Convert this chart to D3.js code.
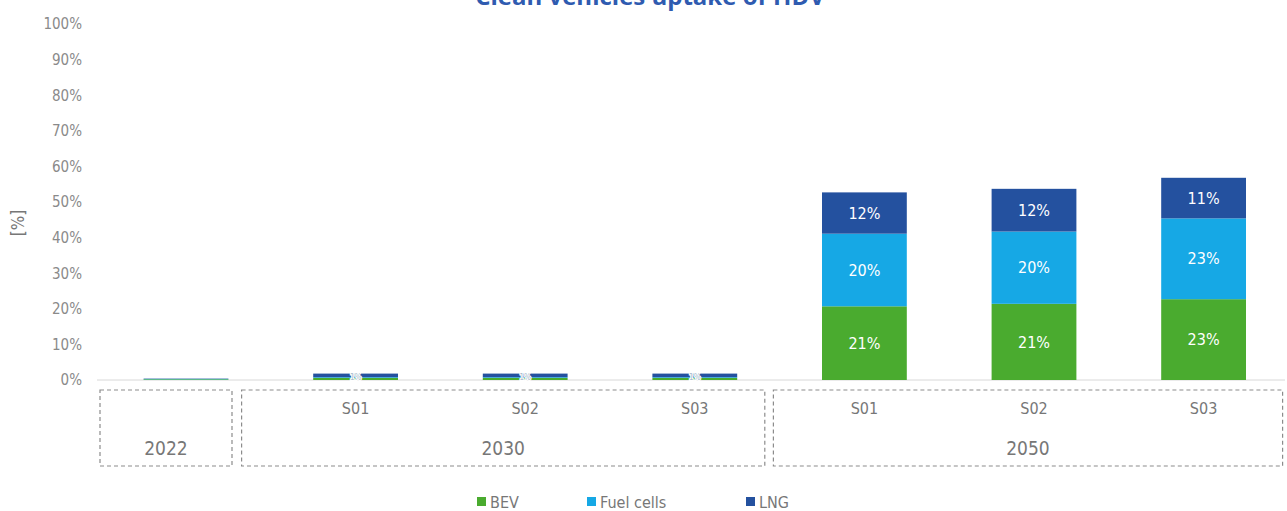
<!DOCTYPE html>
<html>
<head>
<meta charset="utf-8">
<script src="https://cdn.jsdelivr.net/npm/d3@7"></script>
<style>
  html, body { margin: 0; padding: 0; background: #fff; }
  svg { display: block; }
  text { font-family: "Liberation Sans Narrow", "DejaVu Sans Condensed", "Roboto", sans-serif; }
</style>
</head>
<body>
<svg id="chart" width="1287" height="511"></svg>
<script>
// Scenario columns: year group + scenario
const keys      = ["2022", "2030-S01", "2030-S02", "2030-S03", "2050-S01", "2050-S02", "2050-S03"];
const scenarios = ["",     "S01",      "S02",      "S03",      "S01",      "S02",      "S03"];
const years     = ["2022", "2030", "2050"];

// Share of clean HDV in the fleet, [%]
const bev       = [0.2, 0.6, 0.6, 0.6, 20.7, 21.4, 22.7];
const fuelCells = [0.1, 0.2, 0.2, 0.2, 20.4, 20.3, 22.7];
const lng       = [0.1, 1.0, 1.0, 1.0, 11.6, 12.0, 11.4];

const series = ["BEV", "Fuel cells", "LNG"];
const yTicks = [0, 10, 20, 30, 40, 50, 60, 70, 80, 90, 100];

const colors = { "BEV": "#4aab2f", "Fuel cells": "#16a8e5", "LNG": "#24519f" };

const rows = keys.map((k, i) => ({ key: k, "BEV": bev[i], "Fuel cells": fuelCells[i], "LNG": lng[i] }));

const svg = d3.select("#chart");

const x = d3.scaleBand().domain(keys).range([101.2, 1288.4]).paddingInner(0.5).paddingOuter(0.25);
const y = d3.scaleLinear().domain([0, 100]).range([380, 24]);

// Title (sits partly above the canvas edge)
svg.append("text")
  .attr("x", 650).attr("y", 5)
  .attr("text-anchor", "middle")
  .attr("fill", "#2f5bb0")
  .attr("font-size", 24).attr("font-weight", "bold")
  .style("font-family", "'Open Sans', sans-serif")
  .text("Clean vehicles uptake of HDV");

// Y axis labels
const yAxis = d3.axisLeft(y).tickValues(yTicks).tickFormat(d => d + "%").tickSize(0).tickPadding(0);
const yg = svg.append("g").attr("transform", "translate(82,0)").call(yAxis);
yg.select(".domain").remove();
yg.selectAll("text").attr("fill", "#8a8a8a").attr("font-size", 15)
  .style("font-family", "'Liberation Sans Narrow', 'DejaVu Sans Condensed', sans-serif");

svg.append("text")
  .attr("transform", "translate(24,223) rotate(-90)")
  .attr("text-anchor", "middle")
  .attr("fill", "#777").attr("font-size", 17)
  .text("[%]");

// Baseline
svg.append("line")
  .attr("x1", 97).attr("x2", 1285)
  .attr("y1", y(0)).attr("y2", y(0))
  .attr("stroke", "#d8d8d8").attr("stroke-width", 1);

// Stacked bars
const stacked = d3.stack().keys(series)(rows);
const layers = svg.append("g").selectAll("g").data(stacked).join("g")
  .attr("fill", d => colors[d.key]);
layers.selectAll("rect").data(d => d).join("rect")
  .attr("x", d => x(d.data.key))
  .attr("width", x.bandwidth())
  .attr("y", d => y(d[1]))
  .attr("height", d => y(d[0]) - y(d[1]));

// Value labels on the large segments
const big = [];
stacked.forEach(layer => layer.forEach(d => {
  const v = d[1] - d[0];
  if (v >= 5) big.push({ key: d.data.key, v, mid: (d[0] + d[1]) / 2 });
}));
svg.append("g").selectAll("text").data(big).join("text")
  .attr("x", d => x(d.key) + x.bandwidth() / 2)
  .attr("y", d => y(d.mid))
  .attr("dy", "0.35em")
  .attr("text-anchor", "middle")
  .attr("fill", "#fff").attr("font-size", 16)
  .text(d => Math.round(d.v) + "%");

// Tiny labels on the 2030 bars
const small = keys.map((k, i) => ({ key: k, v: lng[i], top: bev[i] + fuelCells[i] + lng[i] }))
  .filter(d => d.key.startsWith("2030"));
svg.append("g").selectAll("text").data(small).join("text")
  .attr("x", d => x(d.key) + x.bandwidth() / 2)
  .attr("y", d => y(d.top / 2))
  .attr("dy", "0.35em")
  .attr("text-anchor", "middle")
  .attr("fill", "#a9bccc").attr("font-size", 8)
  .attr("stroke", "#fff").attr("stroke-width", 2).attr("paint-order", "stroke")
  .text(d => Math.round(d.v) + "%");

// Dashed group boxes under the axis
const step = x.step();
const groups = [
  { year: "2022", first: "2022",     last: "2022",     left: -86, right: 46 },
  { year: "2030", first: "2030-S01", last: "2030-S03", left: -114, right: 70 },
  { year: "2050", first: "2050-S01", last: "2050-S03", left: -91, right: 79 }
];
const cx = k => x(k) + x.bandwidth() / 2;
svg.append("g").selectAll("rect").data(groups).join("rect")
  .attr("x", d => cx(d.first) + d.left)
  .attr("width", d => cx(d.last) + d.right - (cx(d.first) + d.left))
  .attr("y", 390).attr("height", 76)
  .attr("fill", "none")
  .attr("stroke", "#8c8c8c").attr("stroke-width", 1.2)
  .attr("stroke-dasharray", "4,3");

// Scenario labels
svg.append("g").selectAll("text").data(keys.filter((k, i) => scenarios[i])).join("text")
  .attr("x", k => cx(k))
  .attr("y", 414)
  .attr("text-anchor", "middle")
  .attr("fill", "#777").attr("font-size", 16)
  .text(k => scenarios[keys.indexOf(k)]);

// Year labels
svg.append("g").selectAll("text").data(groups).join("text")
  .attr("x", d => (cx(d.first) + d.left + cx(d.last) + d.right) / 2)
  .attr("y", 455)
  .attr("text-anchor", "middle")
  .attr("fill", "#777").attr("font-size", 19)
  .text(d => d.year);

// Legend
const legendX = [477, 587, 746];
const lg = svg.append("g").selectAll("g").data(series).join("g")
  .attr("transform", (d, i) => `translate(${legendX[i]},502)`);
lg.append("rect").attr("x", 0).attr("y", -5).attr("width", 9).attr("height", 9)
  .attr("fill", d => colors[d]);
lg.append("text").attr("x", 13).attr("y", 0).attr("dy", "0.35em")
  .attr("fill", "#777").attr("font-size", 16)
  .text(d => d);
</script>
</body>
</html>
